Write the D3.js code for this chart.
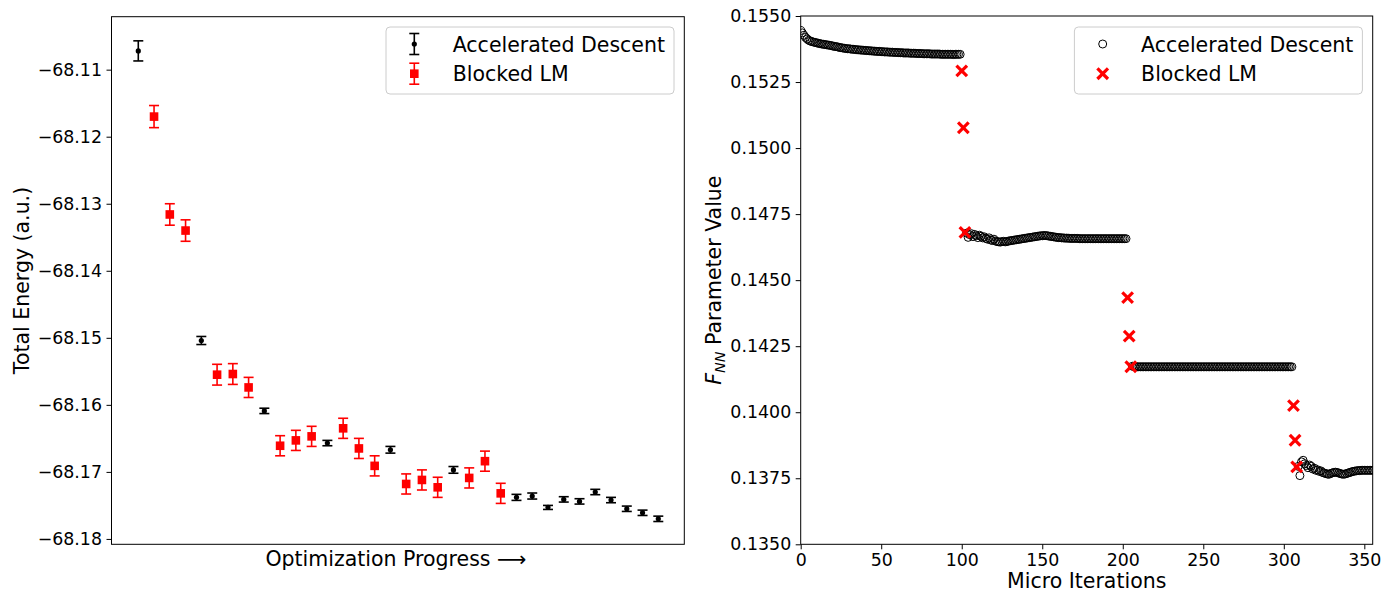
<!DOCTYPE html>
<html><head><meta charset="utf-8">
<script src="https://cdn.jsdelivr.net/npm/d3@7"></script>
<style>body{margin:0;background:#fff;} text{font-family:"DejaVu Sans",sans-serif;fill:#000;}</style>
</head><body><svg id="c" width="1398" height="593"></svg>
<script>
// ---------- Left panel data ----------
const progressMethod = ["AD","LM","LM","LM","AD","LM","LM","LM","AD","LM","LM","LM","AD","LM","LM","LM","AD","LM","LM","LM","AD","LM","LM","LM","AD","AD","AD","AD","AD","AD","AD","AD","AD","AD"];
const progressEnergy = [-68.1072,-68.1170,-68.1316,-68.1340,-68.1504,-68.1555,-68.1554,-68.1574,-68.1609,-68.1661,-68.1653,-68.1647,-68.1657,-68.1635,-68.1665,-68.1691,-68.1667,-68.1718,-68.1712,-68.1723,-68.1697,-68.1709,-68.1684,-68.1732,-68.1738,-68.1736,-68.1753,-68.1741,-68.1744,-68.1730,-68.1742,-68.1755,-68.1761,-68.1770];
const progressError = [0.0015,0.00165,0.0016,0.0016,0.0006,0.00155,0.00155,0.0015,0.0004,0.0015,0.0015,0.0015,0.0004,0.0015,0.0015,0.0015,0.0005,0.0015,0.0015,0.0015,0.0005,0.0015,0.0015,0.0015,0.00045,0.00045,0.0003,0.0004,0.0004,0.0004,0.0004,0.0004,0.0004,0.0004];
const energyTicks = [-68.18,-68.17,-68.16,-68.15,-68.14,-68.13,-68.12,-68.11];

// ---------- Right panel data ----------
const adSegmentStarts = [0,103,206,309];
const adSegment1 = [0.15445,0.15436,0.15427,0.15419,0.15413,0.15408,0.15405,0.15403,0.15401,0.15400,
0.15398,0.15397,0.15395,0.15394,0.15393,0.15392,0.15391,0.15390,0.15389,0.15388,
0.15386,0.15385,0.15384,0.15383,0.15381,0.15380,0.15379,0.15378,0.15377,0.15376,
0.15376,0.15375,0.15374,0.15374,0.15373,0.15372,0.15372,0.15371,0.15371,0.15370,
0.15370,0.15369,0.15369,0.15368,0.15368,0.15367,0.15367,0.15366,0.15366,0.15366,
0.15365,0.15365,0.15364,0.15364,0.15364,0.15363,0.15363,0.15363,0.15362,0.15362,
0.15362,0.15361,0.15361,0.15361,0.15360,0.15360,0.15360,0.15360,0.15359,0.15359,
0.15359,0.15359,0.15358,0.15358,0.15358,0.15358,0.15357,0.15357,0.15357,0.15357,
0.15357,0.15356,0.15356,0.15356,0.15356,0.15356,0.15356,0.15355,0.15355,0.15355,
0.15355,0.15355,0.15355,0.15355,0.15355,0.15354,0.15355,0.15355,0.15355,0.15355];
const adSegment2 = [0.14678,0.14662,0.14672,0.14676,0.14665,0.14673,0.14668,0.14661,0.14670,0.14666,
0.14660,0.14664,0.14658,0.14655,0.14660,0.14652,0.14650,0.14655,0.14648,0.14646,
0.14645,0.14644,0.14646,0.14647,0.14645,0.14646,0.14648,0.14649,0.14650,0.14651,
0.14652,0.14653,0.14654,0.14655,0.14656,0.14657,0.14658,0.14659,0.14660,0.14661,
0.14662,0.14663,0.14664,0.14665,0.14666,0.14667,0.14668,0.14668,0.14669,0.14669,
0.14668,0.14667,0.14666,0.14665,0.14664,0.14663,0.14662,0.14661,0.14661,0.14660,
0.14660,0.14659,0.14659,0.14659,0.14658,0.14658,0.14658,0.14658,0.14658,0.14658,
0.14657,0.14657,0.14657,0.14657,0.14657,0.14657,0.14657,0.14657,0.14657,0.14657,
0.14657,0.14657,0.14657,0.14657,0.14657,0.14657,0.14657,0.14657,0.14657,0.14657,
0.14657,0.14657,0.14657,0.14657,0.14657,0.14657,0.14657,0.14657,0.14657,0.14657];
const adSegment3 = [0.14174,0.14173,0.14173,0.14172,0.14172,0.14172,0.14172,0.14172,0.14172,0.14172,
0.14172,0.14172,0.14172,0.14172,0.14172,0.14172,0.14172,0.14172,0.14172,0.14172,
0.14172,0.14172,0.14172,0.14172,0.14172,0.14172,0.14172,0.14172,0.14172,0.14172,
0.14172,0.14172,0.14172,0.14172,0.14172,0.14172,0.14172,0.14172,0.14172,0.14172,
0.14172,0.14172,0.14172,0.14172,0.14172,0.14172,0.14172,0.14172,0.14172,0.14172,
0.14172,0.14172,0.14172,0.14172,0.14172,0.14172,0.14172,0.14172,0.14172,0.14172,
0.14172,0.14172,0.14172,0.14172,0.14172,0.14172,0.14172,0.14172,0.14172,0.14172,
0.14172,0.14172,0.14172,0.14172,0.14172,0.14172,0.14172,0.14172,0.14172,0.14172,
0.14172,0.14172,0.14172,0.14172,0.14172,0.14172,0.14172,0.14172,0.14172,0.14172,
0.14172,0.14172,0.14172,0.14172,0.14172,0.14172,0.14172,0.14172,0.14172,0.14172];
const adSegment4 = [0.13795,0.13760,0.13812,0.13818,0.13805,0.13798,0.13790,0.13800,0.13795,0.13785,
0.13788,0.13780,0.13782,0.13776,0.13778,0.13772,0.13770,0.13768,0.13766,0.13765,
0.13768,0.13770,0.13772,0.13773,0.13772,0.13770,0.13768,0.13766,0.13765,0.13766,
0.13768,0.13770,0.13772,0.13774,0.13776,0.13777,0.13778,0.13779,0.13779,0.13780,
0.13780,0.13780,0.13780,0.13780,0.13780,0.13780,0.13780,0.13780];
const lmIterations = [100,101,102,203,204,205,306,307,308];
const lmValues = [0.15292,0.15077,0.14681,0.14434,0.14288,0.14172,0.14025,0.13894,0.13793];
const iterTicks = [0,50,100,150,200,250,300,350];
const paramTicks = [0.1350,0.1375,0.1400,0.1425,0.1450,0.1475,0.1500,0.1525,0.1550];

// ---------- Layout ----------
const svg = d3.select("#c");
svg.append("rect").attr("width",1398).attr("height",593).attr("fill","#fff");
const TICK_FS = 17.4, LABEL_FS = 20.5;
const L = {x0:111.5, x1:684.3, y0:16.7, y1:544.3};
const R = {x0:800.7, x1:1372.7, y0:16, y1:544.3};

// ===== LEFT PANEL =====
const xL = d3.scaleLinear().domain([-1.7, 34.65]).range([L.x0, L.x1]);
const yL = d3.scaleLinear().domain([-68.1808, -68.1021]).range([L.y1, L.y0]);

const gL = svg.append("g");
const axL = gL.append("g").attr("transform",`translate(${L.x0},0)`)
  .call(d3.axisLeft(yL).tickValues(energyTicks).tickFormat(d3.format(".2f")).tickSize(5).tickPadding(4.5));
axL.select(".domain").remove();
axL.selectAll("text").attr("font-size",TICK_FS).attr("font-family","DejaVu Sans");
axL.selectAll("line").attr("stroke","#000");

const pts = progressEnergy.map((e,i)=>({i, e, err:progressError[i], m:progressMethod[i]}));
const cap = 5;
const ebG = gL.append("g");
pts.forEach(p=>{
  const col = p.m==="AD" ? "#000" : "#ff0000";
  const g = ebG.append("g");
  const x = xL(p.i), yt = yL(p.e+p.err), yb = yL(p.e-p.err);
  g.append("line").attr("x1",x).attr("x2",x).attr("y1",yt).attr("y2",yb).attr("stroke",col).attr("stroke-width",1.6);
  g.append("line").attr("x1",x-cap).attr("x2",x+cap).attr("y1",yt).attr("y2",yt).attr("stroke",col).attr("stroke-width",1.6);
  g.append("line").attr("x1",x-cap).attr("x2",x+cap).attr("y1",yb).attr("y2",yb).attr("stroke",col).attr("stroke-width",1.6);
  if (p.m==="AD") {
    g.append("circle").attr("cx",x).attr("cy",yL(p.e)).attr("r",2.6).attr("fill","#000");
  } else {
    g.append("rect").attr("x",x-4.3).attr("y",yL(p.e)-4.3).attr("width",8.6).attr("height",8.6).attr("fill","#ff0000");
  }
});

gL.append("rect").attr("x",L.x0).attr("y",L.y0).attr("width",L.x1-L.x0).attr("height",L.y1-L.y0)
  .attr("fill","none").attr("stroke","#000").attr("stroke-width",1);

gL.append("text").attr("x",(L.x0+L.x1)/2 - 2).attr("y",565.5).attr("text-anchor","middle")
  .attr("font-size",LABEL_FS).text("Optimization Progress \u27F6");
gL.append("text").attr("transform",`translate(28.5,${(L.y0+L.y1)/2}) rotate(-90)`).attr("text-anchor","middle")
  .attr("font-size",LABEL_FS).text("Total Energy (a.u.)");

// legend left
function legendBox(g, x0){
  g.append("rect").attr("x",x0).attr("y",27).attr("width",288).attr("height",67).attr("rx",4)
    .attr("fill","#fff").attr("fill-opacity",0.8).attr("stroke","#cccccc").attr("stroke-width",1);
}
const lgL = gL.append("g");
legendBox(lgL, 386);
{
  const hx = 414.3;
  [[44,"#000","AD"],[73.7,"#ff0000","LM"]].forEach(([cy,col,m])=>{
    lgL.append("line").attr("x1",hx).attr("x2",hx).attr("y1",cy-10.5).attr("y2",cy+10.5).attr("stroke",col).attr("stroke-width",1.6);
    lgL.append("line").attr("x1",hx-cap).attr("x2",hx+cap).attr("y1",cy-10.5).attr("y2",cy-10.5).attr("stroke",col).attr("stroke-width",1.6);
    lgL.append("line").attr("x1",hx-cap).attr("x2",hx+cap).attr("y1",cy+10.5).attr("y2",cy+10.5).attr("stroke",col).attr("stroke-width",1.6);
    if (m==="AD") lgL.append("circle").attr("cx",hx).attr("cy",cy).attr("r",2.6).attr("fill",col);
    else lgL.append("rect").attr("x",hx-4.3).attr("y",cy-4.3).attr("width",8.6).attr("height",8.6).attr("fill",col);
  });
  lgL.append("text").attr("x",452.7).attr("y",51.5).attr("font-size",LABEL_FS).text("Accelerated Descent");
  lgL.append("text").attr("x",452.7).attr("y",81.2).attr("font-size",LABEL_FS).text("Blocked LM");
}

// ===== RIGHT PANEL =====
const xR = d3.scaleLinear().domain([0, 355.2]).range([R.x0, R.x1]);
const yR = d3.scaleLinear().domain([0.135, 0.155]).range([R.y1, R.y0]);
const gR = svg.append("g");

const defs = svg.append("defs");
defs.append("clipPath").attr("id","clipR").append("rect")
  .attr("x",R.x0).attr("y",R.y0).attr("width",R.x1-R.x0).attr("height",R.y1-R.y0);

const ayR = gR.append("g").attr("transform",`translate(${R.x0},0)`)
  .call(d3.axisLeft(yR).tickValues(paramTicks).tickFormat(d3.format(".4f")).tickSize(5).tickPadding(4.5));
ayR.select(".domain").remove();
const axR = gR.append("g").attr("transform",`translate(0,${R.y1})`)
  .call(d3.axisBottom(xR).tickValues(iterTicks).tickFormat(d3.format("d")).tickSize(5).tickPadding(4.5));
axR.select(".domain").remove();
gR.selectAll(".tick text").attr("font-size",TICK_FS).attr("font-family","DejaVu Sans");
gR.selectAll(".tick line").attr("stroke","#000");

const adPoints = [adSegment1,adSegment2,adSegment3,adSegment4]
  .flatMap((seg,k)=>seg.map((v,i)=>({x:adSegmentStarts[k]+i, y:v})));
const plotR = gR.append("g").attr("clip-path","url(#clipR)");
plotR.append("g").selectAll("circle").data(adPoints).join("circle")
  .attr("cx",d=>xR(d.x)).attr("cy",d=>yR(d.y)).attr("r",4)
  .attr("fill","none").attr("stroke","#000").attr("stroke-width",1);

const lmPoints = lmIterations.map((it,i)=>({x:it, y:lmValues[i]}));
const xm = 5.3;
const xG = plotR.append("g").selectAll("g").data(lmPoints).join("g")
  .attr("transform",d=>`translate(${xR(d.x)},${yR(d.y)})`);
xG.append("line").attr("x1",-xm).attr("y1",-xm).attr("x2",xm).attr("y2",xm).attr("stroke","#ff0000").attr("stroke-width",3.2);
xG.append("line").attr("x1",-xm).attr("y1",xm).attr("x2",xm).attr("y2",-xm).attr("stroke","#ff0000").attr("stroke-width",3.2);

gR.append("rect").attr("x",R.x0).attr("y",R.y0).attr("width",R.x1-R.x0).attr("height",R.y1-R.y0)
  .attr("fill","none").attr("stroke","#000").attr("stroke-width",1);

gR.append("text").attr("x",(R.x0+R.x1)/2).attr("y",588).attr("text-anchor","middle")
  .attr("font-size",LABEL_FS).text("Micro Iterations");
const yl = gR.append("text").attr("transform",`translate(721,${(R.y0+R.y1)/2}) rotate(-90)`).attr("text-anchor","middle")
  .attr("font-size",LABEL_FS);
yl.append("tspan").attr("font-style","italic").text("F");
yl.append("tspan").attr("font-style","italic").attr("font-size",14.3).attr("dy",3.5).text("NN");
yl.append("tspan").attr("dy",-3.5).text(" Parameter Value");

const lgR = gR.append("g");
legendBox(lgR, 1074.4);
{
  const hx = 1074.4 + 28.3;
  lgR.append("circle").attr("cx",hx).attr("cy",44).attr("r",4).attr("fill","none").attr("stroke","#000").attr("stroke-width",1);
  const lx = lgR.append("g").attr("transform",`translate(${hx},73.7)`);
  lx.append("line").attr("x1",-xm).attr("y1",-xm).attr("x2",xm).attr("y2",xm).attr("stroke","#ff0000").attr("stroke-width",3.2);
  lx.append("line").attr("x1",-xm).attr("y1",xm).attr("x2",xm).attr("y2",-xm).attr("stroke","#ff0000").attr("stroke-width",3.2);
  lgR.append("text").attr("x",1074.4+66.7).attr("y",51.5).attr("font-size",LABEL_FS).text("Accelerated Descent");
  lgR.append("text").attr("x",1074.4+66.7).attr("y",81.2).attr("font-size",LABEL_FS).text("Blocked LM");
}
</script></body></html>
